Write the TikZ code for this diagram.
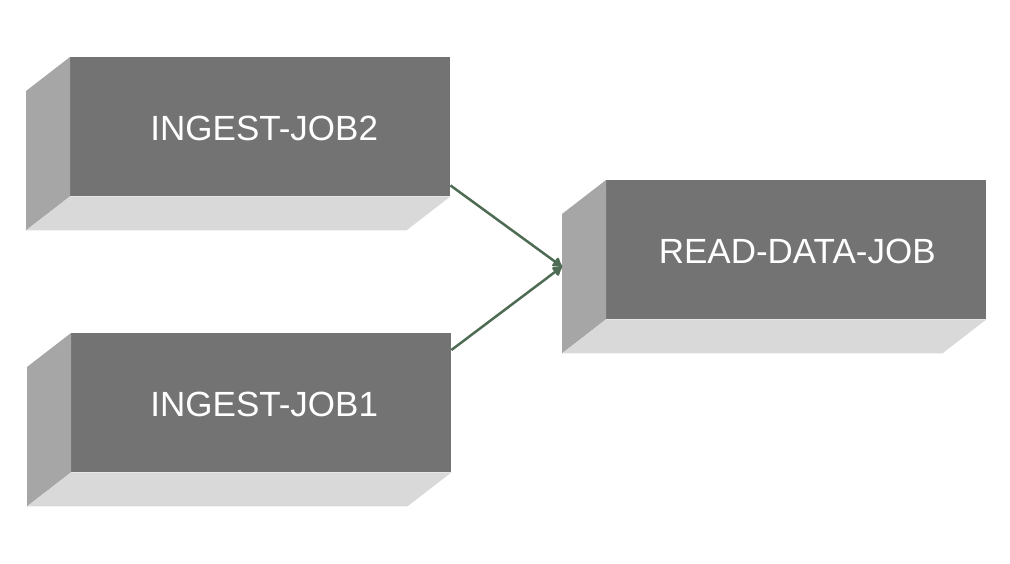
\documentclass[tikz,border=0pt]{standalone}
\usepackage{fontspec}
\setmainfont{Liberation Sans}
\usetikzlibrary{calc,arrows.meta}
\definecolor{frontgray}{HTML}{737373}
\definecolor{sidegray}{HTML}{A6A6A6}
\definecolor{bottomgray}{HTML}{D9D9D9}
\definecolor{linkgreen}{HTML}{4E6B54}
\tikzset{
  front/.style={fill=frontgray, draw=none, inner sep=0pt, anchor=north west,
    minimum width=380pt, minimum height=139pt},
  sideface/.style={fill=sidegray, draw=none},
  bottomface/.style={fill=bottomgray, draw=none},
  joblabel/.style={text=white, inner sep=0pt, font=\fontsize{35}{38}\selectfont},
  link/.style={draw=linkgreen, line width=2.5pt, -{Latex[length=11pt,width=13pt,round]}},
}
% name, x, y, label, label x-offset
\newcommand\jobblock[5]{%
  \node[front] (#1) at (#2,#3) {};
  \fill[sideface] (#1.north west) -- ++(-44,34) -- ($(#1.south west)+(-44,34)$) -- (#1.south west) -- cycle;
  \fill[bottomface] (#1.south west) -- (#1.south east) -- ++(-44,34) -- ($(#1.south west)+(-44,34)$) -- cycle;
  \node[joblabel] (#1-label) at ($(#1.center)+(#5,2)$) {#4};
}
\begin{document}
\begin{tikzpicture}[x=1pt,y=-1pt]
\useasboundingbox (0,0) rectangle (1010,564);
\jobblock{ing2}{70}{57}{INGEST-JOB2}{4}
\jobblock{ing1}{71}{333}{INGEST-JOB1}{3}
\jobblock{rd}{606}{180}{READ-DATA-JOB}{1}
\coordinate (tip) at ($(rd.west)+(-44,17)$);
\coordinate (s2) at ($(ing2.south east)+(0,-11)$);
\coordinate (s1) at ($(ing1.north east)+(0,17)$);
\draw[link] (s2) -- (tip);
\draw[link] (s1) -- (tip);
\end{tikzpicture}
\end{document}
